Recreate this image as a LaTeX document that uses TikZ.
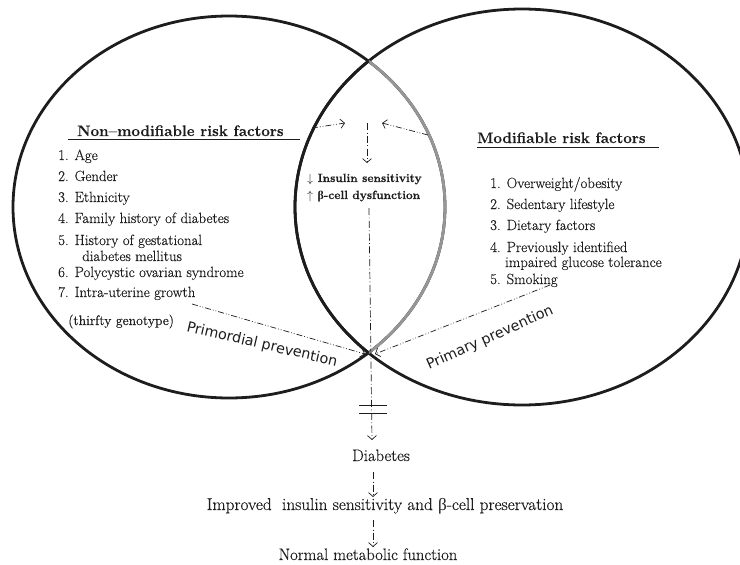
\documentclass[tikz,border=0pt]{standalone}
\usepackage{fontspec}
\setmainfont{Latin Modern Roman}[FakeBold=0.35]
\usetikzlibrary{arrows.meta}
\newfontfamily\sansf{DejaVu Sans}
\newfontfamily\grkb{Liberation Serif}
\definecolor{ink}{RGB}{30,28,28}
\definecolor{arcgray}{RGB}{150,150,150}
\begin{document}
\begin{tikzpicture}[x=1pt,y=-1pt,
  ring/.style={line width=2.8pt, draw=ink},
  lst/.style={anchor=base west, inner sep=0pt, text=ink, font=\fontsize{14.8}{17}\selectfont},
  head/.style={anchor=base west, inner sep=0pt, text=ink, font=\bfseries\fontsize{15.2}{18}\selectfont},
  mid/.style={anchor=base west, inner sep=0pt, text=ink, font=\bfseries\fontsize{11.9}{14}\selectfont},
  low/.style={anchor=base, inner sep=0pt, text=ink, font=\fontsize{16.6}{19}\selectfont},
  prev/.style={inner sep=0pt, text=ink, font=\sansf\fontsize{14.3}{17}\selectfont},
  tip/.style={-{Straight Barb[length=4pt,width=9pt]}},
  ddd/.style={line width=0.7pt, draw=ink, tip, dash pattern=on 6pt off 2pt on 0.8pt off 2pt on 0.8pt off 2pt},
  dd/.style={line width=0.7pt, draw=ink, tip, dash pattern=on 7pt off 2.5pt on 0.8pt off 2.5pt},
  uline/.style={line width=1pt, draw=ink}]
\useasboundingbox (0,0) rectangle (740,565);

% circles
\draw[ring] (229,207) ellipse [x radius=216pt, y radius=191pt];
\draw[ring] (522,207) ellipse [x radius=227pt, y radius=198pt];
\begin{scope}
  \clip (522,207) ellipse [x radius=227pt, y radius=198pt];
  \draw[line width=2.8pt, draw=arcgray] (229,207) ellipse [x radius=216pt, y radius=191pt];
\end{scope}
\begin{scope}
  \clip (229,207) ellipse [x radius=216pt, y radius=191pt];
  \draw[ring] (522,207) ellipse [x radius=227pt, y radius=198pt];
\end{scope}

% headings
\node[head] (nmh) at (77,136) {Non--modifiable risk factors};
\draw[uline] (68,139) -- (300,139);
\node[head] (mh) at (477,143) {Modifiable risk factors};
\draw[uline] (477,147) -- (659,147);

% left list
\node[lst] (l1) at (58,160) {1. Age};
\node[lst] (l2) at (58,181) {2. Gender};
\node[lst] (l3) at (58,202) {3. Ethnicity};
\node[lst] (l4) at (58,223) {4. Family history of diabetes};
\node[lst] (l5) at (58,245) {5. History of gestational};
\node[lst] (l5b) at (82,261) {diabetes mellitus};
\node[lst] (l6) at (58,277) {6. Polycystic ovarian syndrome};
\node[lst] (l7) at (58,297) {7. Intra-uterine growth};
\node[lst, font=\fontsize{13.8}{16}\selectfont] (l7b) at (68,325) {(thirfty genotype)};

% right list
\node[lst] (r1) at (490,188) {1. Overweight/obesity};
\node[lst] (r2) at (490,209) {2. Sedentary lifestyle};
\node[lst] (r3) at (490,230) {3. Dietary factors};
\node[lst] (r4) at (490,252) {4. Previously identified};
\node[lst] (r4b) at (505,267) {impaired glucose tolerance};
\node[lst] (r5) at (490,284) {5. Smoking};

% centre
\node[mid] (ins) at (307,182) {$\downarrow$ Insulin sensitivity};
\node[mid] (bcd) at (307,199) {$\uparrow$ {\grkb\bfseries β}-cell dysfunction};

% prevention labels
\node[prev, rotate=-13] (prim) at (262,345) {Primordial prevention};
\node[prev, rotate=24] (pri) at (490,338) {Primary prevention};

% bottom texts
\node[low] (diab) at (381,461) {Diabetes};
\node[low, font=\fontsize{17.2}{20}\selectfont] (impr) at (385,510) {Improved\ \ insulin sensitivity and {\grkb β}-cell preservation};
\node[low] (norm) at (368,560) {Normal metabolic function};

% connector end points
\coordinate (la) at (312,128); \coordinate (lt) at (345,123);
\coordinate (ra) at (428,135); \coordinate (rt) at (382,123);
\coordinate (va) at (367,123); \coordinate (vt) at (367,163);
\coordinate (ms) at (369,208); \coordinate (mt) at (372,440);
\coordinate (ps) at (192,304); \coordinate (pt) at (365,354);
\coordinate (qs) at (550,285); \coordinate (qt) at (375,354);
\coordinate (d1) at (373,472); \coordinate (d2) at (373,497);
\coordinate (i1) at (373,520); \coordinate (i2) at (373,547);

\draw[ddd] (la) -- (lt);
\draw[ddd] (ra) -- (rt);
\draw[dd] (va) -- (vt);
\draw[dd] (ms) -- (mt);
\draw[ddd] (ps) -- (pt);
\draw[ddd] (qs) -- (qt);
\draw[dd] (d1) -- (d2);
\draw[dd] (i1) -- (i2);

% break marks
\draw[line width=1pt, draw=ink] (359,405) -- (387,405);
\draw[line width=1pt, draw=ink] (359,413) -- (387,413);
\end{tikzpicture}
\end{document}
